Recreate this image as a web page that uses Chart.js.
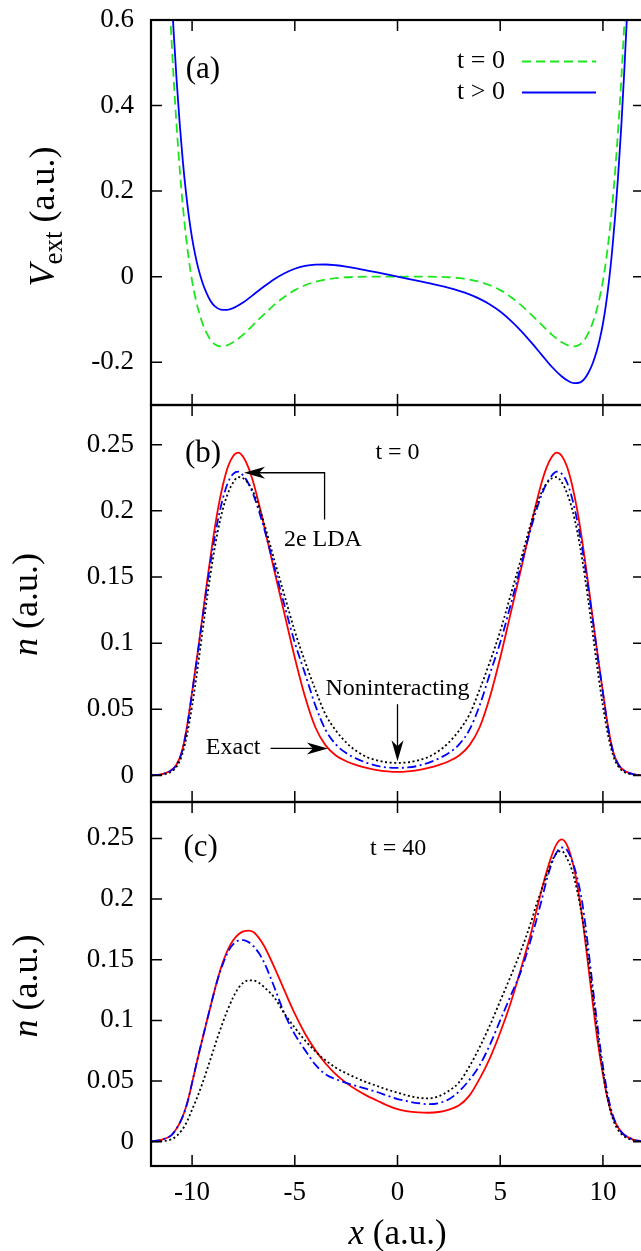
<!DOCTYPE html>
<html>
<head>
<meta charset="utf-8">
<title>External potential and densities</title>
<script src="https://cdn.jsdelivr.net/npm/chart.js@4.4.1/dist/chart.umd.min.js"></script>
<style>
  html, body { margin:0; padding:0; background:#fff; overflow:hidden; }
  body { width:641px; height:1251px; position:relative; }
  canvas { position:absolute; left:0; }
</style>
</head>
<body>
<canvas id="pa" width="670" height="420" style="top:0px;width:670px;height:420px"></canvas>
<canvas id="pb" width="670" height="420" style="top:395px;width:670px;height:420px"></canvas>
<canvas id="pc" width="670" height="461" style="top:790px;width:670px;height:461px"></canvas>
<script>
// ---------------- data ----------------
const xTickVals = [-10, -5, 0, 5, 10];
const xTickLabels = ['-10', '-5', '0', '5', '10'];
const vTickVals = [-0.2, 0, 0.2, 0.4, 0.6];
const vTickLabels = ['-0.2', '0', '0.2', '0.4', '0.6'];
const nTickVals = [0, 0.05, 0.1, 0.15, 0.2, 0.25];
const nTickLabels = ['0', '0.05', '0.1', '0.15', '0.2', '0.25'];

// panel (a): external potential
const xPot = [-11.2,-11.05,-10.9,-10.75,-10.6,-10.45,-10.3,-10.15,-10,-9.85,-9.7,-9.5,-9.3,-9.1,-8.9,-8.6,-8.3,-8,-7.5,-7,-6.5,-6,-5.5,-5,-4.5,-4,-3.5,-3,-2.5,-2,-1,
  0,
  1,2,2.5,3,3.5,4,4.5,5,5.5,6,6.5,7,7.5,8,8.3,8.6,8.9,9.1,9.3,9.5,9.7,9.85,10,10.15,10.3,10.45,10.6,10.75,10.9,11.05,11.2];
const vextT0 = [0.75,0.6,0.465,0.35,0.25,0.165,0.095,0.037,-0.01,-0.047,-0.077,-0.108,-0.131,-0.148,-0.158,-0.163,-0.1605,-0.1535,-0.135,-0.1115,-0.088,-0.066,-0.047,-0.0315,-0.020,-0.012,-0.0066,-0.0033,-0.0014,-0.0005,0,
  0,
  0,-0.0005,-0.0014,-0.0033,-0.0066,-0.012,-0.020,-0.0315,-0.047,-0.066,-0.088,-0.1115,-0.135,-0.1535,-0.1605,-0.163,-0.158,-0.148,-0.131,-0.108,-0.077,-0.047,-0.01,0.037,0.095,0.165,0.25,0.35,0.465,0.6,0.75];
const vextTpos = [0.862,0.7105,0.574,0.4575,0.356,0.2695,0.198,0.1385,0.09,0.0515,0.02,-0.013,-0.038,-0.057,-0.069,-0.077,-0.0775,-0.0735,-0.06,-0.0415,-0.023,-0.006,0.008,0.0185,0.025,0.028,0.0284,0.0267,0.0236,0.0195,0.01,
  0,
  -0.01,-0.0205,-0.0264,-0.0333,-0.0416,-0.052,-0.065,-0.0815,-0.102,-0.126,-0.153,-0.1815,-0.21,-0.2335,-0.2435,-0.249,-0.247,-0.239,-0.224,-0.203,-0.174,-0.1455,-0.11,-0.0645,-0.008,0.0605,0.144,0.2425,0.356,0.4895,0.638];

// panels (b), (c): densities
const xN = [-12,-11.5,-11,-10.75,-10.5,-10.25,-10,-9.75,-9.5,-9.25,-9,-8.75,-8.5,-8.25,-8,-7.75,-7.5,-7.25,-7,-6.75,-6.5,-6,-5.5,-5,-4.5,-4,-3.5,-3,-2.5,-2,-1.5,-1,-0.5,0,0.5,1,1.5,2,2.5,3,3.5,4,4.5,5,5.5,6,6.5,6.75,7,7.25,7.5,7.75,8,8.25,8.5,8.75,9,9.25,9.5,9.75,10,10.25,10.5,10.75,11,11.5,12];

const nExactT0 = [0.0002,0.0009,0.0042,0.0085,0.018,0.037,0.063,0.0905,0.1195,0.149,0.1765,0.2005,0.2195,0.2335,0.2415,0.244,0.2405,0.2325,0.2205,0.2055,0.189,0.155,0.122,0.089,0.0595,0.0365,0.0228,0.0152,0.0108,0.0079,0.0057,0.0041,0.0031,
  0.0027,
  0.0031,0.0041,0.0057,0.0079,0.0108,0.0152,0.0228,0.0365,0.0595,0.089,0.122,0.155,0.189,0.2055,0.2205,0.2325,0.2405,0.244,0.2415,0.2335,0.2195,0.2005,0.1765,0.149,0.1195,0.0905,0.063,0.037,0.018,0.0085,0.0042,0.0009,0.0002];
const nLdaT0 = [0.0002,0.0009,0.0041,0.0083,0.0175,0.036,0.0625,0.0895,0.118,0.1455,0.171,0.1925,0.2095,0.2215,0.228,0.2296,0.2265,0.2205,0.2115,0.2,0.187,0.158,0.1285,0.1005,0.077,0.053,0.0345,0.0235,0.017,0.0128,0.0096,0.0073,0.0061,
  0.0058,
  0.0061,0.0073,0.0096,0.0128,0.017,0.0235,0.0345,0.053,0.077,0.1005,0.1285,0.158,0.187,0.2,0.2115,0.2205,0.2265,0.2296,0.228,0.2215,0.2095,0.1925,0.171,0.1455,0.118,0.0895,0.0625,0.036,0.0175,0.0083,0.0041,0.0009,0.0002];
const nNonT0 = [0.0001,0.0007,0.003,0.0068,0.015,0.0305,0.0525,0.079,0.108,0.1365,0.1625,0.1845,0.2015,0.2135,0.2215,0.2255,0.2245,0.2205,0.2135,0.2035,0.191,0.163,0.136,0.109,0.086,0.065,0.046,0.034,0.025,0.0185,0.014,0.0115,0.0100,
  0.0096,
  0.0100,0.0115,0.014,0.0185,0.025,0.034,0.046,0.065,0.086,0.109,0.136,0.163,0.191,0.2035,0.2135,0.2205,0.2245,0.2255,0.2215,0.2135,0.2015,0.1845,0.1625,0.1365,0.108,0.079,0.0525,0.0305,0.015,0.0068,0.003,0.0007,0.0001];

const nExactT40 = [0.0003,0.0016,0.0055,0.011,0.019,0.031,0.0485,0.067,0.0845,0.1015,0.1185,0.1345,0.148,0.1585,0.166,0.1708,0.1733,0.174,0.1727,0.168,0.1615,0.144,0.1245,0.1055,0.089,0.0755,0.0645,0.0555,0.0485,0.0428,0.038,0.034,0.030,0.0268,0.025,0.0242,0.0239,0.0245,0.0265,0.030,0.038,0.052,0.069,0.09,0.114,0.142,0.172,0.1895,0.2065,0.222,0.2355,0.2455,0.2492,0.2445,0.232,0.212,0.184,0.150,0.115,0.082,0.0555,0.0335,0.0195,0.0115,0.0062,0.0016,0.0004];
const nLdaT40 = [0.0003,0.0016,0.0055,0.011,0.019,0.031,0.0485,0.067,0.0845,0.1015,0.1185,0.134,0.1465,0.1565,0.1628,0.1658,0.1662,0.1645,0.161,0.1555,0.148,0.1275,0.1055,0.0885,0.0755,0.0635,0.0555,0.0515,0.0485,0.046,0.0435,0.041,0.038,0.0352,0.0333,0.0318,0.031,0.0318,0.035,0.0415,0.051,0.063,0.08,0.1,0.12,0.14,0.167,0.182,0.198,0.215,0.229,0.2385,0.2425,0.2405,0.2315,0.2175,0.1965,0.1645,0.1285,0.0935,0.0625,0.0375,0.021,0.0115,0.0062,0.0017,0.0005];
const nNonT40 = [0.0001,0.0005,0.002,0.0048,0.0095,0.0165,0.0265,0.0365,0.048,0.0605,0.0735,0.0865,0.0985,0.1095,0.119,0.1265,0.1312,0.133,0.1328,0.131,0.1275,0.119,0.1055,0.094,0.0835,0.0745,0.067,0.061,0.0565,0.0525,0.049,0.046,0.043,0.0405,0.038,0.0363,0.0357,0.0375,0.042,0.049,0.062,0.078,0.096,0.116,0.136,0.157,0.181,0.195,0.207,0.219,0.2305,0.238,0.2395,0.2335,0.2235,0.2065,0.184,0.1555,0.122,0.088,0.0575,0.0335,0.018,0.0095,0.0048,0.0012,0.0003];

// ---------------- helpers ----------------
const SERIF = "'Liberation Serif', 'Times New Roman', serif";
const TICK_FONT = { family: SERIF, size: 27 };
const TL = 11; // inward tick length
const GREEN = '#1ee61e', BLUE = '#0000ff', RED = '#ff0000', BLACK = '#000000';

function pts(xs, ys) { return xs.map((x, i) => ({ x: x, y: ys[i] })); }
function line(data, color, dash, width) {
  return { data: data, borderColor: color, borderDash: dash, borderWidth: width || 1.8,
           pointRadius: 0, fill: false, cubicInterpolationMode: 'monotone', borderCapStyle: 'butt' };
}
function setTicks(vals) { return function (scale) { scale.ticks = vals.map(v => ({ value: v })); }; }
function labelFor(vals, labels) { return function (value) { const i = vals.indexOf(value); return i >= 0 ? labels[i] : ''; }; }

function drawSegs(ctx, segs, px, py, rotated) {
  ctx.save();
  ctx.translate(px, py);
  if (rotated) ctx.rotate(-Math.PI / 2);
  ctx.fillStyle = '#000';
  ctx.textAlign = 'left';
  ctx.textBaseline = 'alphabetic';
  let total = 0;
  segs.forEach(s => { ctx.font = s.font; s.w = ctx.measureText(s.text).width; total += s.w; });
  let x = -total / 2;
  segs.forEach(s => { ctx.font = s.font; ctx.fillText(s.text, x, s.dy || 0); x += s.w; });
  ctx.restore();
}
function text(ctx, str, x, y, size, align) {
  ctx.save();
  ctx.fillStyle = '#000';
  ctx.font = size + 'px ' + SERIF;
  ctx.textAlign = align || 'center';
  ctx.textBaseline = 'middle';
  ctx.fillText(str, x, y);
  ctx.restore();
}
function arrowHead(ctx, tx, ty, ux, uy) {
  const L = 21, W = 6, N = 15;
  const bx = tx - ux * L, by = ty - uy * L, nx = -uy, ny = ux;
  ctx.beginPath();
  ctx.moveTo(tx, ty);
  ctx.lineTo(bx + nx * W, by + ny * W);
  ctx.lineTo(tx - ux * N, ty - uy * N);
  ctx.lineTo(bx - nx * W, by - ny * W);
  ctx.closePath();
  ctx.fill();
}
function arrowPath(ctx, p) { // p: list of pixel points, last is tip
  ctx.save();
  ctx.strokeStyle = '#000'; ctx.fillStyle = '#000'; ctx.lineWidth = 1.3;
  const n = p.length;
  const dx = p[n-1][0] - p[n-2][0], dy = p[n-1][1] - p[n-2][1];
  const len = Math.hypot(dx, dy), ux = dx / len, uy = dy / len;
  ctx.beginPath();
  ctx.moveTo(p[0][0], p[0][1]);
  for (let i = 1; i < n - 1; i++) ctx.lineTo(p[i][0], p[i][1]);
  ctx.lineTo(p[n-1][0] - ux * 12, p[n-1][1] - uy * 12);
  ctx.stroke();
  arrowHead(ctx, p[n-1][0], p[n-1][1], ux, uy);
  ctx.restore();
}

const framePlugin = {
  id: 'frame',
  afterDatasetsDraw(chart, args, o) {
    const ctx = chart.ctx, a = chart.chartArea, xs = chart.scales.x, ys = chart.scales.y;
    ctx.save();
    ctx.strokeStyle = '#000';
    ctx.lineWidth = 1.5;
    ctx.beginPath();
    xTickVals.forEach(v => { const p = xs.getPixelForValue(v);
      ctx.moveTo(p, a.bottom); ctx.lineTo(p, a.bottom - TL);
      ctx.moveTo(p, a.top); ctx.lineTo(p, a.top + TL); });
    o.yTicks.forEach(v => { const p = ys.getPixelForValue(v);
      ctx.moveTo(a.left, p); ctx.lineTo(a.left + TL, p);
      ctx.moveTo(a.right, p); ctx.lineTo(a.right - TL, p); });
    ctx.stroke();
    ctx.lineWidth = 2.2;
    ctx.strokeRect(a.left, a.top, a.right - a.left, a.bottom - a.top);
    ctx.restore();
  }
};

function baseOptions(yMin, yMax, yVals, yLabels, pad, showX) {
  return {
    responsive: false, animation: false, devicePixelRatio: 1, events: [],
    layout: { padding: pad },
    scales: {
      x: {
        type: 'linear', min: -12, max: 12, display: showX,
        afterBuildTicks: setTicks(xTickVals),
        afterFit: (s) => { if (showX) s.height = 85; s.paddingLeft = 0; s.paddingRight = 0; s.paddingTop = 0; s.paddingBottom = 0; },
        grid: { display: false, drawTicks: false }, border: { display: false },
        ticks: { font: TICK_FONT, color: '#000', padding: 11, maxRotation: 0,
                 callback: labelFor(xTickVals, xTickLabels) }
      },
      y: {
        type: 'linear', min: yMin, max: yMax,
        afterBuildTicks: setTicks(yVals),
        afterFit: (s) => { s.width = 151; s.paddingTop = 0; s.paddingBottom = 0; s.paddingLeft = 0; s.paddingRight = 0; },
        grid: { display: false, drawTicks: false }, border: { display: false },
        ticks: { font: TICK_FONT, color: '#000', padding: 17,
                 callback: labelFor(yVals, yLabels) }
      }
    },
    plugins: { legend: { display: false }, tooltip: { enabled: false },
               frame: { yTicks: yVals } }
  };
}

// ---------------- panel (a) ----------------
new Chart(document.getElementById('pa'), {
  type: 'line',
  data: { datasets: [
    line(pts(xPot, vextTpos), BLUE, [], 1.8),
    line(pts(xPot, vextT0), GREEN, [9, 5], 1.8)
  ] },
  options: baseOptions(-0.3, 0.6, vTickVals, vTickLabels, { top: 20, bottom: 15, left: 0, right: 26 }, false),
  plugins: [framePlugin, {
    id: 'notesA',
    afterDraw(chart) {
      const ctx = chart.ctx, a = chart.chartArea, xs = chart.scales.x, ys = chart.scales.y;
      text(ctx, '(a)', xs.getPixelForValue(-9.47), ys.getPixelForValue(0.483), 31);
      // legend
      text(ctx, 't = 0', 505, 61.5, 26, 'right');
      text(ctx, 't > 0', 505, 92.5, 26, 'right');
      ctx.save();
      ctx.lineWidth = 1.8;
      ctx.strokeStyle = GREEN; ctx.setLineDash([9, 5]);
      ctx.beginPath(); ctx.moveTo(522, 61.5); ctx.lineTo(596, 61.5); ctx.stroke();
      ctx.strokeStyle = BLUE; ctx.setLineDash([]);
      ctx.beginPath(); ctx.moveTo(522, 92.5); ctx.lineTo(596, 92.5); ctx.stroke();
      ctx.restore();
      // y title
      const cy = (a.top + a.bottom) / 2 + 4;
      drawSegs(ctx, [
        { text: 'V', font: 'italic 36px ' + SERIF },
        { text: 'ext', font: '27px ' + SERIF, dy: 8 },
        { text: ' (a.u.)', font: '36px ' + SERIF }
      ], 54, cy, true);
    }
  }]
});

// ---------------- panel (b) ----------------
new Chart(document.getElementById('pb'), {
  type: 'line',
  data: { datasets: [
    line(pts(xN, nNonT0), BLACK, [2, 2.6], 1.8),
    line(pts(xN, nLdaT0), BLUE, [9, 3.5, 2, 3.5], 1.8),
    line(pts(xN, nExactT0), RED, [], 1.8)
  ] },
  options: baseOptions(-0.02, 0.28, nTickVals, nTickLabels, { top: 10, bottom: 13, left: 0, right: 26 }, false),
  plugins: [framePlugin, {
    id: 'notesB',
    afterDraw(chart) {
      const ctx = chart.ctx, a = chart.chartArea, xs = chart.scales.x, ys = chart.scales.y;
      const P = (x, y) => [xs.getPixelForValue(x), ys.getPixelForValue(y)];
      let p;
      p = P(-9.47, 0.2434); text(ctx, '(b)', p[0], p[1], 31);
      p = P(0, 0.2438); text(ctx, 't = 0', p[0], p[1], 24);
      p = P(-3.63, 0.1784); text(ctx, '2e LDA', p[0], p[1], 24);
      arrowPath(ctx, [P(-3.55, 0.1935), P(-3.55, 0.2288), P(-7.47, 0.2288)]);
      p = P(0, 0.0659); text(ctx, 'Noninteracting', p[0], p[1], 24);
      arrowPath(ctx, [P(0, 0.0539), P(0, 0.0108)]);
      p = P(-8.0, 0.0209); text(ctx, 'Exact', p[0], p[1], 24);
      arrowPath(ctx, [P(-6.18, 0.0205), P(-3.39, 0.0205)]);
      drawSegs(ctx, [
        { text: 'n', font: 'italic 36px ' + SERIF },
        { text: ' (a.u.)', font: '36px ' + SERIF }
      ], 37, (a.top + a.bottom) / 2 + 1, true);
    }
  }]
});

// ---------------- panel (c) ----------------
new Chart(document.getElementById('pc'), {
  type: 'line',
  data: { datasets: [
    line(pts(xN, nNonT40), BLACK, [2, 2.6], 1.8),
    line(pts(xN, nLdaT40), BLUE, [9, 3.5, 2, 3.5], 1.8),
    line(pts(xN, nExactT40), RED, [], 1.8)
  ] },
  options: baseOptions(-0.02, 0.28, nTickVals, nTickLabels, { top: 12, bottom: 0, left: 0, right: 26 }, true),
  plugins: [framePlugin, {
    id: 'notesC',
    afterDraw(chart) {
      const ctx = chart.ctx, a = chart.chartArea, xs = chart.scales.x, ys = chart.scales.y;
      const P = (x, y) => [xs.getPixelForValue(x), ys.getPixelForValue(y)];
      let p;
      p = P(-9.58, 0.2419); text(ctx, '(c)', p[0], p[1], 31);
      p = P(0.03, 0.2413); text(ctx, 't = 40', p[0], p[1], 24);
      drawSegs(ctx, [
        { text: 'n', font: 'italic 36px ' + SERIF },
        { text: ' (a.u.)', font: '36px ' + SERIF }
      ], 37, (a.top + a.bottom) / 2 + 2, true);
      drawSegs(ctx, [
        { text: 'x', font: 'italic 35px ' + SERIF },
        { text: ' (a.u.)', font: '35px ' + SERIF }
      ], xs.getPixelForValue(0), 454, false);
    }
  }]
});
</script>
</body>
</html>
